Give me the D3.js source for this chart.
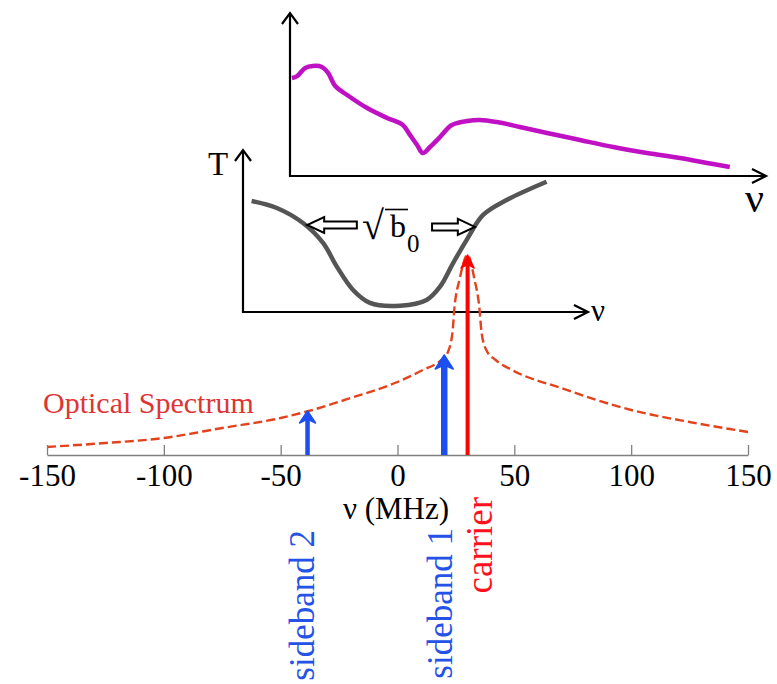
<!DOCTYPE html>
<html>
<head>
<meta charset="utf-8">
<script src="https://cdn.jsdelivr.net/npm/d3@7"></script>
<style>
  html, body { margin: 0; padding: 0; background: #fff; }
  svg { display: block; }
  text { font-family: "Liberation Serif", "Times New Roman", serif; }
</style>
</head>
<body>
<svg id="chart" width="777" height="684"></svg>
<script>
// ---------------- DATA ----------------
// Main plot: optical spectrum (frequency in MHz, relative amplitude)
const specNu  = [-150, -125, -100, -75, -50, -38, -20, 0, 10, 20, 21.4, 23.5, 24.4, 26.5, 30, 33, 35, 36, 38, 42, 49, 70, 100, 125, 150];
const specAmp = [0.04, 0.06, 0.085, 0.135, 0.185, 0.22, 0.285, 0.365, 0.42, 0.49, 0.51, 0.61, 0.74, 0.875, 1.0, 0.875, 0.74, 0.61, 0.525, 0.475, 0.425, 0.335, 0.225, 0.165, 0.115];
const xTicks = [-150, -100, -50, 0, 50, 100, 150];

// Spectral lines (arrows)
const lineNames = ["sideband 2", "sideband 1", "carrier"];
const lineNu    = [-38.5, 20, 30];
const lineAmp   = [0.22, 0.5, 1.0];

// Middle inset: transmission T vs ν (arbitrary units 0..100)
const tNu = [2.5, 9.8, 17.4, 23.2, 27.2, 31.9, 36.8, 45.5, 53.2, 57.1, 60.9, 64.8, 69.6, 76.4, 88.0];
const tVal = [68.5, 64.2, 54.9, 42.6, 28.0, 13.6, 5.6, 3.9, 7.4, 15.6, 30.2, 44.4, 59.9, 69.1, 80.4];
// width annotation arrows (tail, tip, level) in inset units
const bArrowTail = [33.0, 54.8];
const bArrowTip  = [18.6, 67.2];
const bArrowLvl  = [53.7, 52.5];

// Top inset: dispersion-like curve vs ν (arbitrary units 0..100)
const dNu  = [0.4, 1.5, 3.2, 4.8, 6.7, 8.0, 9.5, 12.0, 16.2, 20.4, 23.7, 25.2, 26.7, 27.9, 29.4, 31.5, 34.0, 37.2, 39.9, 43.5, 48.3, 54.0, 60.9, 67.9, 75.0, 81.9, 87.6, 92.4];
const dVal = [60.1, 61.3, 66.3, 67.5, 66.9, 63.2, 55.2, 49.7, 41.7, 35.6, 31.3, 25.2, 19.0, 14.1, 17.8, 23.9, 31.3, 33.7, 34.4, 33.1, 30.1, 26.4, 22.1, 17.8, 14.1, 11.0, 8.0, 5.5];

// ---------------- DRAWING ----------------
const svg = d3.select("#chart");
const serif = '"Liberation Serif", "Times New Roman", serif';

// Main scales
const x = d3.scaleLinear().domain([-150, 150]).range([47, 748]);
const y = d3.scaleLinear().domain([0, 1]).range([455, 255]);

// Inset scales
const xT = d3.scaleLinear().domain([0, 100]).range([243, 588]);
const yT = d3.scaleLinear().domain([0, 100]).range([312, 150]);
const xD = d3.scaleLinear().domain([0, 100]).range([290, 766]);
const yD = d3.scaleLinear().domain([0, 100]).range([176, 13]);

// ---- Top inset ----
const topG = svg.append("g");
topG.append("path")
  .attr("d", d3.line().curve(d3.curveCatmullRom)(dNu.map((v, i) => [xD(v), yD(dVal[i])])))
  .attr("fill", "none").attr("stroke", "#c010c4").attr("stroke-width", 4.5).attr("stroke-linejoin", "round");

function axisArrows(g, xs, ys, xMax, yMax) {
  const x0 = xs(0), y0 = ys(0), xe = xs(xMax), ye = ys(yMax);
  g.append("path")
    .attr("d", `M${x0},${ye} L${x0},${y0} L${xe},${y0}`)
    .attr("fill", "none").attr("stroke", "#000").attr("stroke-width", 2.2);
  g.append("path")
    .attr("d", `M${x0 - 8},${ye + 11} L${x0},${ye} L${x0 + 8},${ye + 11}`)
    .attr("fill", "none").attr("stroke", "#000").attr("stroke-width", 2.2);
  g.append("path")
    .attr("d", `M${xe - 14},${y0 - 7} L${xe},${y0} L${xe - 14},${y0 + 7}`)
    .attr("fill", "none").attr("stroke", "#000").attr("stroke-width", 2.2);
}
axisArrows(topG, xD, yD, 100, 100);
topG.append("text").attr("x", 745).attr("y", 212)
  .attr("font-size", 42).attr("fill", "#000").text("ν");

// ---- Middle inset ----
const midG = svg.append("g");
midG.append("path")
  .attr("d", d3.line().curve(d3.curveCatmullRom)(tNu.map((v, i) => [xT(v), yT(tVal[i])])))
  .attr("fill", "none").attr("stroke", "#555").attr("stroke-width", 4.5).attr("stroke-linejoin", "round");
axisArrows(midG, xT, yT, 100, 100);
midG.append("text").attr("x", 208).attr("y", 175).attr("font-size", 33).text("T");
midG.append("text").attr("x", 591).attr("y", 321).attr("font-size", 31).text("ν");

// hollow block arrows
bArrowTail.forEach((t, i) => {
  const xt = xT(t), xp = xT(bArrowTip[i]), yc = yT(bArrowLvl[i]);
  const dir = Math.sign(xp - xt);
  const hl = 17, hw = 8, sw = 3.5;
  const xb = xp - dir * hl;
  const pts = [[xt, yc - sw], [xb, yc - sw], [xb, yc - hw], [xp, yc], [xb, yc + hw], [xb, yc + sw], [xt, yc + sw]];
  midG.append("path").attr("d", "M" + pts.map(p => p.join(",")).join("L") + "Z")
    .attr("fill", "#fff").attr("stroke", "#000").attr("stroke-width", 2);
});
// √b0 label
midG.append("text").attr("x", 362).attr("y", 239).attr("font-size", 40).text("√");
midG.append("line").attr("x1", 385).attr("x2", 408).attr("y1", 209.5).attr("y2", 209.5)
  .attr("stroke", "#000").attr("stroke-width", 1.6);
midG.append("text").attr("x", 390).attr("y", 237).attr("font-size", 32).text("b");
midG.append("text").attr("x", 407).attr("y", 252).attr("font-size", 25).text("0");

// ---- Main plot ----
const mainG = svg.append("g");
mainG.append("path")
  .attr("d", d3.line().curve(d3.curveMonotoneX)(specNu.map((v, i) => [x(v), y(specAmp[i])])))
  .attr("fill", "none").attr("stroke", "#e2431c").attr("stroke-width", 2.4)
  .attr("stroke-dasharray", "9,4");

const axis = d3.axisBottom(x).tickValues(xTicks).tickSizeInner(-10).tickSizeOuter(0)
  .tickPadding(9).tickFormat(d => String(d));
const axG = mainG.append("g").attr("transform", `translate(0,${y(0)})`).call(axis);
axG.select(".domain").attr("stroke", "#808080").attr("stroke-width", 1.6);
axG.selectAll(".tick line").attr("stroke", "#808080").attr("stroke-width", 1.3);
axG.selectAll(".tick text").attr("font-family", serif).attr("font-size", 31).attr("fill", "#000");

mainG.append("text").attr("x", 396).attr("y", 519).attr("text-anchor", "middle")
  .attr("font-size", 31).attr("fill", "#000").text("ν (MHz)");
mainG.append("text").attr("x", 43).attr("y", 413)
  .attr("font-size", 30).attr("fill", "#dd3535").text("Optical Spectrum");

// spectral line arrows
const lineColor = ["#1d4ef0", "#1d4ef0", "#ff0000"];
const lineWidth = [4.5, 6.5, 4];
const headW = [8, 9, 6.5];
const headL = [12, 14, 13];
lineNu.forEach((nu, i) => {
  const xc = x(nu), yb = y(0), yt = y(lineAmp[i]);
  mainG.append("line").attr("x1", xc).attr("x2", xc).attr("y1", yb).attr("y2", yt + headL[i] - 3)
    .attr("stroke", lineColor[i]).attr("stroke-width", lineWidth[i]);
  mainG.append("path")
    .attr("d", `M${xc},${yt} L${xc + headW[i]},${yt + headL[i]} L${xc},${yt + headL[i] - 4} L${xc - headW[i]},${yt + headL[i]} Z`)
    .attr("fill", lineColor[i]).attr("stroke", lineColor[i]).attr("stroke-width", 1.5)
    .attr("stroke-linejoin", "round");
});

// rotated labels
const labelColor = ["#2452e6", "#2452e6", "#ff1020"];
const labelDx = [6, 8, 24];
const labelTop = [530, 528, 497];
const labelSize = [35, 35, 37];
lineNames.forEach((name, i) => {
  mainG.append("text")
    .attr("transform", `translate(${x(lineNu[i]) + labelDx[i]},${labelTop[i]}) rotate(-90)`)
    .attr("text-anchor", "end").attr("font-size", labelSize[i]).attr("fill", labelColor[i]).text(name);
});
</script>
</body>
</html>
